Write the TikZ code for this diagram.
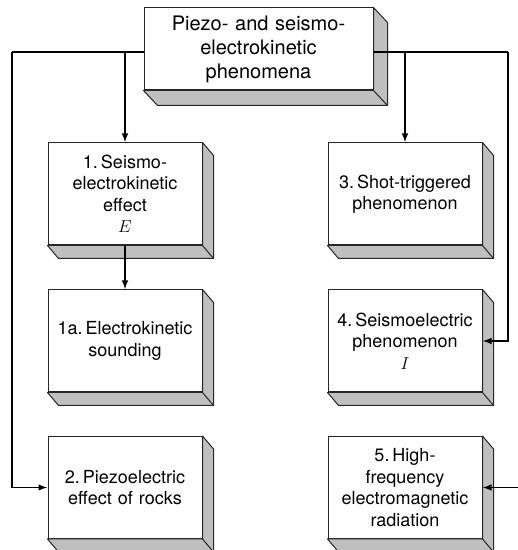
\documentclass[tikz,border=0pt]{standalone}
\usepackage{fontspec}
\setmainfont{TeX Gyre Heros}
\usetikzlibrary{arrows.meta}

\tikzset{
  block/.style={draw=black!85, line width=1pt, fill=white,
    minimum width=154pt, minimum height=102pt, text width=146pt,
    align=center, font=\fontsize{18}{21.5}\selectfont},
  bigblock/.style={block, minimum width=229pt, minimum height=82pt,
    text width=220pt, font=\fontsize{20}{24}\selectfont},
  face/.style={draw=black!85, line width=1pt, fill=black!25, line join=round},
  link/.style={draw=black, line width=1.4pt, -{Latex[length=9pt,width=6.5pt]}}
}

\begin{document}
\begin{tikzpicture}[x=1pt,y=1pt]
        \useasboundingbox (0,0) rectangle (518,550);
        \begin{scope}[every node/.style={block}]
          \node[bigblock] (top) at (258.5,501) {Piezo- and seismo-\\electrokinetic\\phenomena};
          \node (s1) at (125,356) {1.\,Seismo-\\electrokinetic\\effect\\$E$};
          \node (s1a) at (125,209) {1a.\,Electrokinetic\\sounding};
          \node (s2) at (125,62.5) {2.\,Piezoelectric\\effect of rocks};
          \node (s3) at (405,356) {3.\,Shot-triggered\\phenomenon};
          \node (s4) at (405,209) {4.\,Seismoelectric\\phenomenon\\$I$};
          \node (s5) at (405,62.5) {5.\,High-\\frequency\\electromagnetic\\radiation};
        \end{scope}
        % side and bottom faces
        \foreach \n/\d/\e in {top/14/15, s1/11/13, s1a/11/13, s2/11/13, s3/11/13, s4/11/13, s5/11/13} {
          \filldraw[face] (\n.north east) -- ++(\d,-\e) -- ([shift={(\d,-\e)}]\n.south east)
            -- ([shift={(\d,-\e)}]\n.south west) -- (\n.south west) -- (\n.south east) -- cycle;
          \draw[face] (\n.south east) -- ++(\d,-\e);
        }
        \coordinate (lc) at (12,498);
        \coordinate (rc) at (508,498);
        \coordinate (re) at (518,62.5);
        \draw[link] (s1.north |- lc) -- (s1.north);
        \draw[link] (s3.north |- rc) -- (s3.north);
        \draw[link] (s1) -- (s1a);
        \draw[link] (re) -- (s5.east);
        \draw[link, -] ([yshift=-3pt]top.west) -- (lc);
        \draw[link, -] ([yshift=-3pt]top.east) -- (rc);
        \draw[link] (lc) |- (s2.west);
        \draw[link] (rc) |- (s4.east);
      \end{tikzpicture}
\end{document}
